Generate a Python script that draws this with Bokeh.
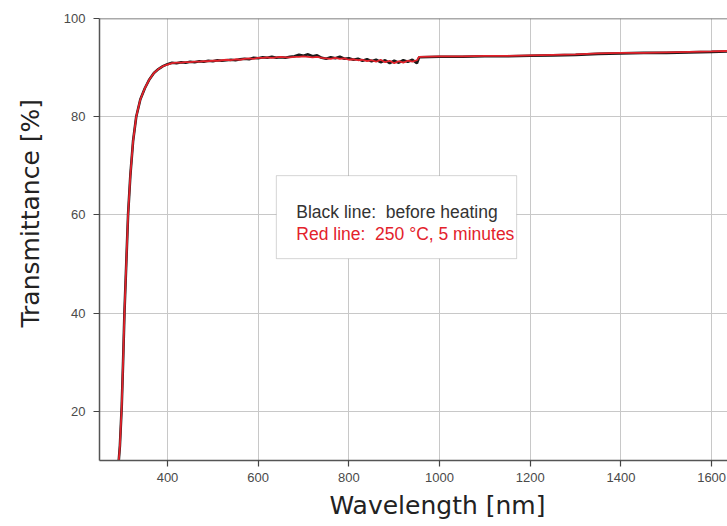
from bokeh.plotting import figure
from bokeh.models import FixedTicker, Span, Label, BoxAnnotation, Range1d, Title
from bokeh.embed import file_html
from bokeh.resources import INLINE

# absorption edge (both samples)
wl_edge = [290, 295, 299, 302, 305, 309, 313, 318, 324, 331, 340, 350, 360, 370, 380, 390]
t_edge = [7, 13, 21, 30, 40, 50, 60, 68, 75, 80, 83.5, 85.8, 87.6, 88.9, 89.7, 90.3]

# visible region, 400-950 nm every 10 nm
wl_vis = list(range(400, 951, 10))
black_vis = [90.7, 91.0, 90.9, 91.1, 91.0, 91.2, 91.1, 91.3, 91.2, 91.4, 91.3, 91.5, 91.4, 91.5,
             91.6, 91.5, 91.7, 91.8, 91.7, 92.0, 91.9, 92.1, 92.0, 92.2, 92.0, 92.1, 92.0, 92.2,
             92.3, 92.6, 92.4, 92.7, 92.3, 92.5, 92.0, 91.8, 92.1, 91.9, 92.2, 91.8, 91.9, 91.6,
             91.8, 91.4, 91.7, 91.3, 91.6, 91.1, 91.5, 90.9, 91.4, 91.0, 91.5, 91.2, 91.6, 90.9]
red_vis = [90.6, 90.9, 91.0, 91.0, 91.1, 91.1, 91.2, 91.2, 91.3, 91.3, 91.4, 91.4, 91.5, 91.6,
           91.5, 91.7, 91.6, 91.8, 91.9, 91.8, 92.0, 92.0, 92.1, 92.0, 92.1, 92.2, 92.1, 92.1,
           92.2, 92.2, 92.3, 92.2, 92.1, 92.2, 92.0, 91.9, 91.8, 92.0, 91.8, 91.9, 91.6, 91.7,
           91.5, 91.6, 91.3, 91.5, 91.2, 91.6, 91.1, 91.4, 90.9, 91.3, 91.0, 91.4, 91.2, 91.5]

# near infrared region
wl_nir = [955, 1000, 1050, 1100, 1150, 1200, 1250, 1300, 1350, 1400, 1450, 1500, 1550, 1600, 1640]
black_nir = [92.1, 92.2, 92.2, 92.3, 92.3, 92.4, 92.5, 92.6, 92.8, 92.9, 93.0, 93.0, 93.1, 93.2, 93.3]
red_nir = [92.2, 92.3, 92.3, 92.4, 92.4, 92.5, 92.6, 92.7, 92.9, 93.0, 93.0, 93.1, 93.2, 93.3, 93.4]

x_ticks = [400, 600, 800, 1000, 1200, 1400, 1600]
y_ticks = [20, 40, 60, 80, 100]

wl = wl_edge + wl_vis + wl_nir
t_black = t_edge + black_vis + black_nir
t_red = t_edge + red_vis + red_nir

p = figure(width=727, height=526, output_backend="svg", toolbar_location=None,
           x_range=Range1d(250, 1635), y_range=Range1d(10, 100),
           min_border_left=99, min_border_right=0, min_border_top=18, min_border_bottom=66)
p.outline_line_color = None
p.background_fill_color = "white"

for ax in (p.xaxis[0], p.yaxis[0]):
    ax.axis_line_color = "#555555"
    ax.axis_line_width = 1.5
    ax.major_tick_line_color = "#444444"
    ax.major_tick_line_width = 1.2
    ax.major_tick_in = 0
    ax.major_tick_out = 6
    ax.minor_tick_line_color = None
    ax.major_label_text_font = "Liberation Sans"
    ax.major_label_text_font_size = "13px"
    ax.major_label_text_color = "#4a4a4a"
p.xaxis.ticker = FixedTicker(ticks=x_ticks)
p.yaxis.ticker = FixedTicker(ticks=y_ticks)
p.xaxis.major_label_standoff = 6
p.yaxis.major_label_standoff = 8

p.xgrid.ticker = FixedTicker(ticks=x_ticks)
p.ygrid.ticker = FixedTicker(ticks=y_ticks)
p.grid.grid_line_color = "#c8c8c8"
p.grid.grid_line_width = 1

p.add_layout(Span(location=100, dimension="width", line_color="#555555", line_width=1.5))

p.line(wl, t_black, line_color="#1a1a1a", line_width=2.6)
p.line(wl, t_red, line_color="#e3222b", line_width=1.8)

p.add_layout(BoxAnnotation(left=640, right=1170, bottom=51.1, top=68.0,
                           fill_color="white", fill_alpha=1.0,
                           line_color="#777777", line_width=1))
p.add_layout(Label(x=684, y=60.6, text="Black line:\u00a0 before heating",
                   text_font="Liberation Sans", text_font_size="17.5px",
                   text_color="#333333", text_baseline="alphabetic"))
p.add_layout(Label(x=684, y=56.1, text="Red line:\u00a0 250 \u00b0C, 5 minutes",
                   text_font="Liberation Sans", text_font_size="17.5px",
                   text_color="#e3222b", text_baseline="alphabetic"))

p.add_layout(Title(text="Wavelength [nm]", align="left", offset=230, standoff=9,
                   text_font="DejaVu Sans", text_font_size="25px",
                   text_font_style="normal", text_color="#222222"), "below")
p.add_layout(Title(text="Transmittance [%]", align="left", offset=133, standoff=28,
                   vertical_align="top",
                   text_font="DejaVu Sans", text_font_size="25px",
                   text_font_style="normal", text_color="#222222"), "left")

open("out.html", "w").write(file_html(p, INLINE))
